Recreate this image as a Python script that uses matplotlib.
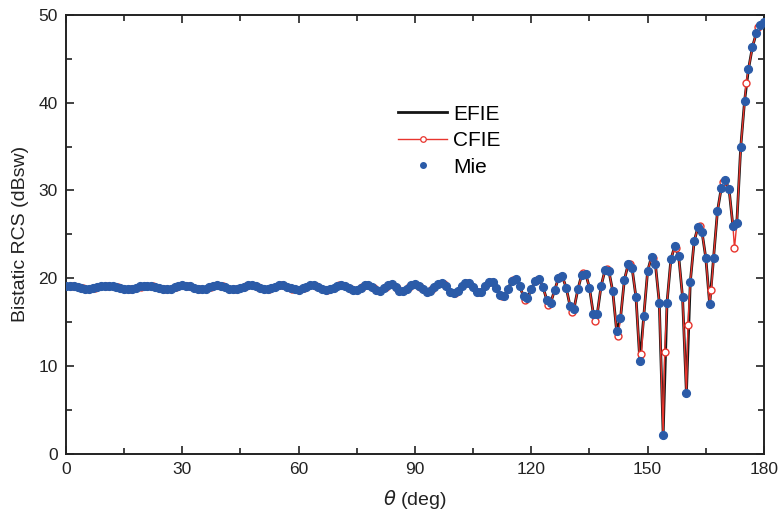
import numpy as np
import matplotlib
matplotlib.use("Agg")
import matplotlib.pyplot as plt
from matplotlib.lines import Line2D

# Mie / EFIE samples, one per degree (0..180)
theta = np.arange(0, 181)
rcs_mie = [
    19.10, 19.12, 19.08, 18.98, 18.85, 18.77, 18.76, 18.82, 18.94, 19.06,
    19.14, 19.15, 19.10, 19.00, 18.87, 18.77, 18.75, 18.80, 18.92, 19.05,
    19.14, 19.15, 19.10, 19.00, 18.86, 18.74, 18.72, 18.80, 18.95, 19.10,
    19.17, 19.15, 19.05, 18.90, 18.76, 18.72, 18.80, 18.96, 19.12, 19.17,
    19.10, 18.96, 18.80, 18.72, 18.74, 18.86, 19.03, 19.16, 19.17, 19.05,
    18.86, 18.72, 18.72, 18.86, 19.04, 19.17, 19.16, 19.02, 18.84, 18.70,
    18.68, 18.82, 19.02, 19.18, 19.17, 19.00, 18.78, 18.65, 18.70, 18.90,
    19.12, 19.20, 19.08, 18.84, 18.64, 18.64, 18.88, 19.18, 19.22, 18.98,
    18.62, 18.55, 18.85, 19.22, 19.28, 18.98, 18.58, 18.50, 18.80, 19.20,
    19.35, 19.15, 18.72, 18.45, 18.55, 18.95, 19.32, 19.40, 19.05, 18.40,
    18.28, 18.50, 19.05, 19.45, 19.40, 18.95, 18.42, 18.45, 19.05, 19.55,
    19.50, 18.85, 18.05, 18.00, 18.80, 19.70, 19.90, 19.10, 17.90, 17.70,
    18.70, 19.70, 19.90, 19.00, 17.50, 17.20, 18.60, 20.00, 20.20, 18.90,
    16.80, 16.50, 18.70, 20.40, 20.50, 18.90, 15.90, 15.90, 19.10, 20.90,
    20.80, 18.50, 14.00, 15.40, 19.80, 21.60, 21.10, 17.80, 10.50, 15.70,
    20.80, 22.45, 21.60, 17.20, 2.15, 17.20, 22.15, 23.65, 22.55, 17.85,
    6.85, 19.55, 24.20, 25.85, 25.30, 22.30, 17.00, 22.30, 27.60, 30.30,
    31.20, 30.10, 25.90, 26.30, 34.90, 40.20, 43.80, 46.30, 47.90, 48.90,
    49.20,
]
# EFIE curve follows the Mie readings at the same angles
rcs_efie = rcs_mie

# CFIE marker samples (every 3 deg, starting at 1.4 deg)
cfie_mark_theta = np.arange(1.4, 180, 3.0)
cfie_mark_rcs = [
    19.11, 18.82, 18.86, 19.14, 18.95, 18.76, 19.00, 19.06, 18.73, 19.02,
    19.12, 18.74, 19.02, 19.06, 18.72, 19.08, 18.98, 18.78, 19.17, 18.78,
    18.90, 19.12, 18.66, 19.16, 18.74, 19.00, 18.86, 19.00, 18.82, 18.98,
    18.98, 18.70, 19.30, 18.35, 19.46, 18.40, 19.56, 18.00, 19.75, 17.45,
    19.80, 16.90, 20.15, 16.10, 20.55, 15.15, 21.00, 13.40, 21.65, 11.40,
    22.30, 11.60, 23.40, 14.70, 25.90, 18.60, 31.00, 23.40, 42.20, 48.60,
]

# CFIE curve = degree samples + marker samples, in angle order
cf_t = np.concatenate([theta, cfie_mark_theta])
cf_v = np.concatenate([rcs_mie, cfie_mark_rcs])
order = np.argsort(cf_t, kind="stable")
cf_t, cf_v = cf_t[order], cf_v[order]
is_mark = np.concatenate([np.zeros(len(theta), bool),
                          np.ones(len(cfie_mark_theta), bool)])[order]
mark_idx = list(np.nonzero(is_mark)[0])

plt.rcParams["font.family"] = ["Liberation Sans", "DejaVu Sans"]
plt.rcParams["mathtext.fontset"] = "dejavusans"

BLUE = "#2b5ba8"
RED = "#e8352e"
INK = "#222222"

fig = plt.figure(figsize=(7.79, 5.19), dpi=100)
ax = fig.add_axes([0.0847, 0.1262, 0.896, 0.845])

ax.plot(theta, rcs_efie, color="#151515", lw=2.0, zorder=2)
ax.plot(cf_t, cf_v, color=RED, lw=1.0, marker="o", markevery=mark_idx,
        ms=5, mfc="white", mec=RED, mew=1.0, zorder=3)
ax.plot(theta, rcs_mie, ls="none", marker="o", ms=5.6, color=BLUE,
        mec=BLUE, zorder=4)

ax.set_xlim(0, 180)
ax.set_ylim(0, 50)
ax.set_xticks(np.arange(0, 181, 30))
ax.set_xticks(np.arange(0, 181, 15), minor=True)
ax.set_yticks(np.arange(0, 51, 10))
ax.set_yticks(np.arange(0, 51, 5), minor=True)
ax.tick_params(which="both", direction="in", top=True, right=True,
               width=1.2, labelsize=12.5, colors=INK, pad=6)
ax.tick_params(which="major", length=6)
ax.tick_params(which="minor", length=4)
for sp in ax.spines.values():
    sp.set_linewidth(1.4)
    sp.set_color(INK)

ax.set_xlabel(r"$\theta$ (deg)", fontsize=14, color=INK, labelpad=8)
ax.set_ylabel("Bistatic RCS (dBsw)", fontsize=14, color=INK, labelpad=7)

handles = [
    Line2D([], [], color="#151515", lw=2.0),
    Line2D([], [], color=RED, lw=1.0, marker="o", ms=4, mfc="white",
           mec=RED, mew=0.9),
    Line2D([], [], ls="none", marker="o", ms=4, color=BLUE),
]
ax.legend(handles, ["EFIE", "CFIE", "Mie"], loc="upper left",
          bbox_to_anchor=(0.449, 0.838), frameon=False, fontsize=15,
          handlelength=2.35, handletextpad=0.3, labelspacing=0.36)

fig.savefig("out.png", dpi=100)
